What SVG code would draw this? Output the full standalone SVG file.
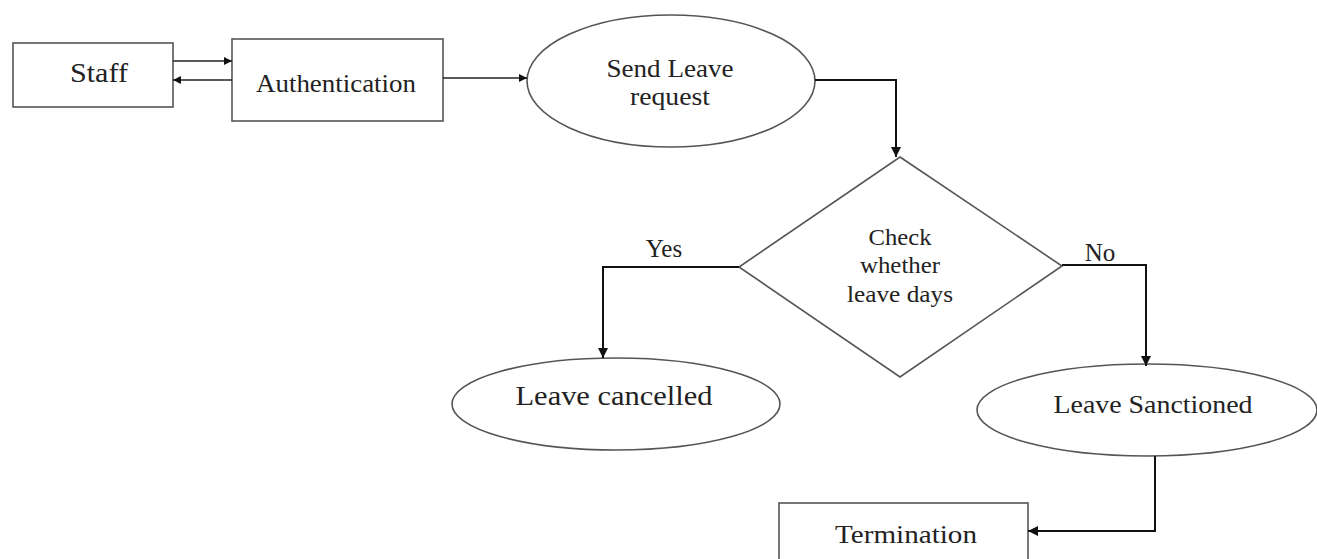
<svg xmlns="http://www.w3.org/2000/svg" width="1317" height="559" viewBox="0 0 1317 559">
<style>
.shape{fill:#fff;stroke:#555;stroke-width:1.6}
.conn{fill:none;stroke:#111;stroke-width:2}
.thin{fill:none;stroke:#222;stroke-width:1.5}
text{font-family:"Times New Roman","Liberation Serif",Tinos,serif;fill:#222;text-anchor:middle}
.big{font-size:27px}
.mid{font-size:25px}
.small{font-size:23px}
</style>
<defs>
<marker id="ah" viewBox="0 0 10 10" refX="10" refY="5" markerWidth="10" markerHeight="8" markerUnits="userSpaceOnUse" orient="auto">
<path d="M0,0 L10,5 L0,10 z" fill="#111"/>
</marker>
<marker id="ahb" viewBox="0 0 10 10" refX="10" refY="5" markerWidth="10" markerHeight="10" markerUnits="userSpaceOnUse" orient="auto">
<path d="M0,0 L10,5 L0,10 z" fill="#111"/>
</marker>
</defs>
<rect width="1317" height="559" fill="#fff"/>
<g id="staff">
<rect class="shape" x="13" y="43" width="160" height="64"/>
<text class="big" x="99" y="82" textLength="58" lengthAdjust="spacingAndGlyphs">Staff</text>
</g>
<g id="authentication">
<rect class="shape" x="232" y="39" width="211" height="82"/>
<text class="mid" x="336" y="92" textLength="160" lengthAdjust="spacingAndGlyphs">Authentication</text>
</g>
<g id="send-leave">
<ellipse class="shape" cx="671" cy="81" rx="144" ry="66"/>
<text class="mid" x="670" y="77" textLength="127" lengthAdjust="spacingAndGlyphs">Send Leave</text>
<text class="mid" x="670" y="105" textLength="80" lengthAdjust="spacingAndGlyphs">request</text>
</g>
<g id="check">
<polygon class="shape" points="900,157 1062,266 900,377 739,267"/>
<text class="small" x="900" y="245" textLength="63" lengthAdjust="spacingAndGlyphs">Check</text>
<text class="small" x="900" y="273" textLength="80" lengthAdjust="spacingAndGlyphs">whether</text>
<text class="small" x="900" y="302" textLength="106" lengthAdjust="spacingAndGlyphs">leave days</text>
</g>
<g id="leave-cancelled">
<ellipse class="shape" cx="616" cy="404" rx="164" ry="46"/>
<text class="big" x="614" y="405" textLength="197" lengthAdjust="spacingAndGlyphs">Leave cancelled</text>
</g>
<g id="leave-sanctioned">
<ellipse class="shape" cx="1147" cy="410" rx="170" ry="46"/>
<text class="mid" x="1153" y="413" textLength="199" lengthAdjust="spacingAndGlyphs">Leave Sanctioned</text>
</g>
<g id="termination">
<rect class="shape" x="779" y="503" width="249" height="70"/>
<text class="mid" x="906" y="543" textLength="142" lengthAdjust="spacingAndGlyphs">Termination</text>
</g>
<g id="connectors">
<line class="thin" x1="173" y1="61" x2="232" y2="61" marker-end="url(#ah)"/>
<line class="thin" x1="232" y1="80" x2="173" y2="80" marker-end="url(#ah)"/>
<line class="thin" x1="443" y1="78" x2="527" y2="78" marker-end="url(#ah)"/>
<polyline class="conn" points="815,80 896,80 896,157" marker-end="url(#ahb)"/>
<polyline class="conn" points="739,267 603,267 603,358" marker-end="url(#ahb)"/>
<polyline class="conn" points="1062,265 1146,265 1146,366" marker-end="url(#ahb)"/>
<polyline class="conn" points="1155,456 1155,531 1028,531" marker-end="url(#ahb)"/>
<text class="mid" x="664" y="257">Yes</text>
<text class="mid" x="1100" y="261">No</text>
</g>
</svg>
